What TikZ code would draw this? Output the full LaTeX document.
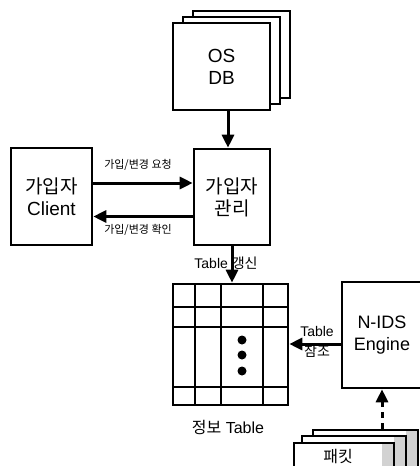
\documentclass[tikz,border=0pt]{standalone}
\usepackage{fontspec}
\setmainfont{Liberation Sans}
\newfontfamily\kr{Noto Sans CJK KR}
\usetikzlibrary{arrows.meta, positioning}

\begin{document}
\begin{tikzpicture}[x=1pt, y=-1pt,
    % Define styles
    box/.style={rectangle, draw=black, line width=2.6pt, fill=white, align=center, inner sep=0pt},
    bigtext/.style={font=\fontsize{19}{22}\selectfont},
    sheet/.style={box, path picture={\fill[gray!35] ([xshift=-12pt]path picture bounding box.north east) rectangle (path picture bounding box.south east);}},
    arr/.style={-{Triangle[length=13pt,width=12pt]}, line width=3pt},
    dasharr/.style={arr, dash pattern=on 6pt off 5pt},
    lbl/.style={font=\fontsize{11}{13}\selectfont\kr, inner sep=1pt},
    gridline/.style={line width=2.6pt}
  ]
  \useasboundingbox (0,0) rectangle (420,466);
  \clip (0,0) rectangle (420,466);

  % OS DB stack
  \node[box, minimum width=97pt, minimum height=87pt] (osdb3) at (241.5,54.5) {};
  \node[box, minimum width=97pt, minimum height=87pt] (osdb2) at (231.5,60.5) {};
  \node[box, bigtext, minimum width=97pt, minimum height=87pt] (osdb) at (221.5,66.5) {OS\\DB};

  % Subscriber client and management
  \node[box, bigtext, minimum width=81pt, minimum height=97pt] (client) at (51.5,196.5) {{\kr 가입자}\\Client};
  \node[box, bigtext, minimum width=76pt, minimum height=96pt] (mgr) at (232,197) {{\kr 가입자}\\{\kr 관리}};

  % Info table
  \node[box, minimum width=115pt, minimum height=121pt] (tbl) at (230.5,344.5) {};
  \foreach \gx in {195,221,263}
    \draw[gridline] (\gx,284) -- (\gx,405);
  \foreach \gy in {307,327,387}
    \draw[gridline] (173,\gy) -- (288,\gy);
  \foreach \dy in {340,355,371}
    \fill (242,\dy) circle (4.5pt);
  \node[font=\fontsize{16}{18}\selectfont] (tname) at (228,427) {{\kr 정보} Table};

  % N-IDS engine
  \node[box, font=\fontsize{18}{22}\selectfont, minimum width=80pt, minimum height=106pt] (nids) at (382,335) {N-IDS\\Engine};

  % Packet stack
  \node[sheet, minimum width=105pt, minimum height=40pt] (pkt3) at (365.5,450) {};
  \node[sheet, minimum width=104pt, minimum height=34pt] (pkt2) at (354,453) {};
  \node[sheet, font=\fontsize{16}{18}\selectfont\kr, minimum width=100pt, minimum height=27pt] (pkt) at (344,456.5) {패킷\hspace*{12pt}};

  % Labels
  \node[lbl] (req) at (138,165) {가입/변경 요청};
  \node[lbl] (ack) at (138,230) {가입/변경 확인};
  \node[font=\fontsize{14}{16}\selectfont] (upd) at (226,263) {Table {\kr 갱신}};
  \node[font=\fontsize{14}{20}\selectfont, align=center, inner sep=0pt] (ref) at (317,342) {Table\\{\kr 참조}};

  % Arrows
  \draw[arr] ([xshift=-4pt]mgr.north |- osdb.south) -- ([xshift=-4pt]mgr.north);
  \draw[arr] ([yshift=13.5pt]client.east) -- ([yshift=13.5pt]client.east -| mgr.west);
  \draw[arr] ([yshift=-19.5pt]mgr.west) -- ([yshift=-19.5pt]mgr.west -| client.east);
  \draw[arr] (mgr.south) -- (mgr.south |- tbl.north);
  \draw[arr] ([yshift=-9pt]nids.west) -- ([yshift=-9pt]nids.west -| tbl.east);
  \draw[dasharr] (nids.south |- pkt3.north) -- (nids.south);
\end{tikzpicture}
\end{document}
